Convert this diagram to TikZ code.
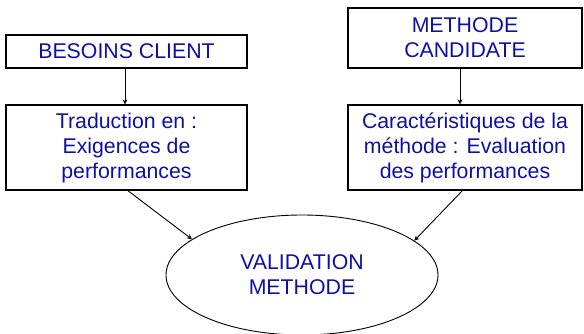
\documentclass[tikz,border=0pt]{standalone}
\usepackage{fontspec}
\setmainfont{Liberation Sans}
\usetikzlibrary{shapes.geometric,arrows.meta}
\definecolor{txtblue}{RGB}{15,15,165}
\begin{document}
\begin{tikzpicture}[x=1pt,y=-1pt,
  box/.style={draw=black,line width=1.2pt,rectangle,inner sep=0pt,text=txtblue,font=\fontsize{21.3}{25}\selectfont,align=center},
  conn/.style={line width=0.9pt,-{Stealth[length=5pt,width=5pt]}}]
\useasboundingbox (0,0) rectangle (584,334);
\node[box,minimum width=241pt,minimum height=33pt] (bc) at (126.5,51.5) {BESOINS CLIENT};
\node[box,minimum width=241pt,minimum height=85pt] (tr) at (126.5,147.5) {Traduction en :\\Exigences de\\performances};
\node[box,minimum width=234pt,minimum height=60pt] (mc) at (465,38) {METHODE\\CANDIDATE};
\node[box,minimum width=234pt,minimum height=85pt] (ca) at (465,147.5) {Caractéristiques de la\\méthode : Evaluation\\des performances};
\node[draw=black,line width=0.9pt,ellipse,minimum width=272pt,minimum height=120pt,inner sep=0pt,text=txtblue,font=\fontsize{21.3}{25}\selectfont,align=center] (va) at (302,275) {VALIDATION\\METHODE};
\draw[conn] (bc.south -| 125,0) -- (tr.north -| 125,0);
\draw[conn] (mc.south -| 460,0) -- (ca.north -| 460,0);
\coordinate (t1) at (127,190);
\coordinate (t2) at (463,190);
\draw[conn] (t1) -- (va.162.5);
\draw[conn] (t2) -- (va.17.5);
\end{tikzpicture}
\end{document}
